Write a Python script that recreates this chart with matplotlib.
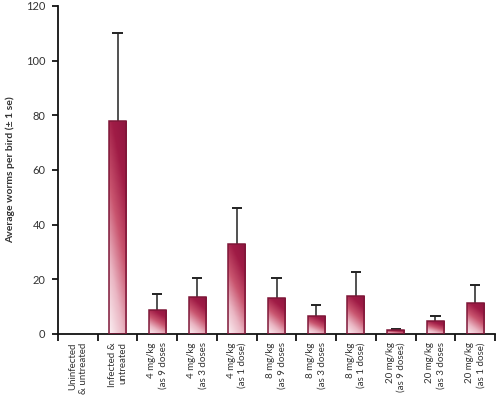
import numpy as np
import matplotlib
matplotlib.use("Agg")
import matplotlib.pyplot as plt
from matplotlib.colors import LinearSegmentedColormap
from matplotlib.patches import Rectangle

categories = [
    "Uninfected\n& untreated",
    "Infected &\nuntreated",
    "4 mg/kg\n(as 9 doses",
    "4 mg/kg\n(as 3 doses",
    "4 mg/kg\n(as 1 dose)",
    "8 mg/kg\n(as 9 doses",
    "8 mg/kg\n(as 3 doses",
    "8 mg/kg\n(as 1 dose)",
    "20 mg/kg\n(as 9 doses)",
    "20 mg/kg\n(as 3 doses",
    "20 mg/kg\n(as 1 dose)",
]
means = [0, 78, 8.8, 13.4, 33, 13, 6.6, 14, 1.3, 4.6, 11.2]
se = [0, 32, 5.8, 7.2, 13, 7.5, 4.0, 8.8, 0.6, 2.0, 6.8]
yticks = [0, 20, 40, 60, 80, 100, 120]

plt.rcParams['font.family'] = ['Lato', 'DejaVu Sans']

fig = plt.figure(figsize=(5.0, 3.99), dpi=100)
ax = fig.add_axes([0.116, 0.163, 0.874, 0.822])

cmap = LinearSegmentedColormap.from_list("bar", ["#fbf0f3", "#eab6c3", "#c9556f", "#a01c46", "#8e1540"])
x = np.arange(len(categories))
width = 0.43

nx, ny = 40, 200
gx = np.linspace(0, 1, nx)
gy = np.linspace(0, 1, ny)
GX, GY = np.meshgrid(gx, gy)
grad = 0.7 * GY + 0.3 * GX

for xi, m, e in zip(x, means, se):
    if m <= 0:
        continue
    ax.vlines(xi, m, m + e, color="#222222", linewidth=1.1, zorder=1)
    ax.hlines(m + e, xi - 0.13, xi + 0.13, color="#222222", linewidth=1.4, zorder=1)
    x0 = xi - width / 2
    rect = Rectangle((x0, 0), width, m, facecolor="none", edgecolor="#7e1738",
                     linewidth=1.1, zorder=3)
    im = ax.imshow(grad, cmap=cmap, extent=(x0, x0 + width, 0, m), origin="lower",
                   aspect="auto", zorder=2, interpolation="bilinear")
    ax.add_patch(rect)
    im.set_clip_path(rect)

ax.set_xlim(-0.5, len(categories) - 0.5)
ax.set_ylim(0, 120)
ax.set_yticks(yticks)
ax.set_yticklabels([str(v) for v in yticks], fontsize=8, color="#333333")
ax.set_xticks(np.arange(-0.5, len(categories), 1.0))
ax.set_xticklabels([])
ax.set_xticks(x, minor=True)
ax.set_xticklabels(categories, minor=True, rotation=90, fontsize=7.0, color="#333333",
                   va="top", ha="center", multialignment="right", linespacing=1.3)
ax.tick_params(axis="x", which="major", length=5, width=1.2, direction="out")
ax.tick_params(axis="x", which="minor", length=0, pad=6)
ax.tick_params(axis="y", length=4, width=1.2, direction="out", pad=5)

for s in ["top", "right"]:
    ax.spines[s].set_visible(False)
for s in ["left", "bottom"]:
    ax.spines[s].set_linewidth(1.3)
    ax.spines[s].set_color("#111111")

ax.set_ylabel("Average worms per bird (± 1 se)", fontsize=7.5, fontweight="bold",
              color="#333333", labelpad=8)

fig.savefig("out.png", dpi=100)
